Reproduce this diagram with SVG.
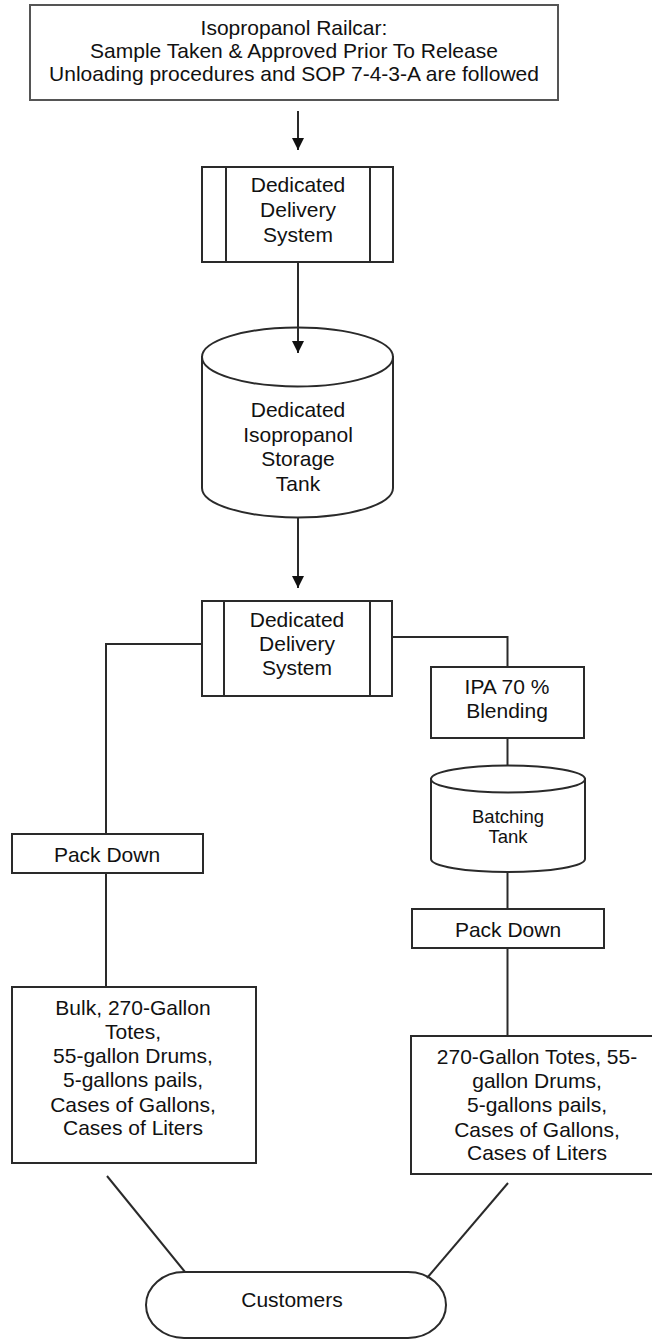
<svg xmlns="http://www.w3.org/2000/svg" width="652" height="1339" viewBox="0 0 652 1339">
<style>
  .box { fill: #fff; stroke: #2a2a2a; stroke-width: 2; }
  .top { fill: #fff; stroke: #555; stroke-width: 2; }
  .ln { fill: none; stroke: #2a2a2a; stroke-width: 2; }
  .t { font-family: "Liberation Sans", Arial, sans-serif; font-size: 21px; fill: #111; text-anchor: middle; }
  .ts { font-family: "Liberation Sans", Arial, sans-serif; font-size: 18.5px; fill: #111; text-anchor: middle; }
</style>
<defs>
  <marker id="arr" markerUnits="userSpaceOnUse" markerWidth="12" markerHeight="12" refX="12" refY="6" orient="auto">
    <path d="M0,0 L12,6 L0,12 Z" fill="#111"/>
  </marker>
</defs>
<rect width="652" height="1339" fill="#fff"/>

<g id="railcar">
  <rect class="top" x="30" y="5" width="528" height="95"/>
  <text class="t" x="294" y="35">Isopropanol Railcar:</text>
  <text class="t" x="294" y="58">Sample Taken &amp; Approved Prior To Release</text>
  <text class="t" x="294" y="81">Unloading procedures and SOP 7-4-3-A are followed</text>
</g>

<g id="delivery1">
  <rect class="box" x="202" y="167" width="191" height="95"/>
  <line class="ln" x1="226" y1="167" x2="226" y2="262"/>
  <line class="ln" x1="370" y1="167" x2="370" y2="262"/>
  <text class="t" x="298" y="192">Dedicated</text>
  <text class="t" x="298" y="217">Delivery</text>
  <text class="t" x="298" y="242">System</text>
</g>

<g id="storage-tank">
  <path class="box" d="M202,357 V488 A95.5,29.5 0 0 0 393,488 V357 Z"/>
  <ellipse class="box" cx="297.5" cy="357" rx="95.5" ry="29.5"/>
  <text class="t" x="298" y="417">Dedicated</text>
  <text class="t" x="298" y="441.5">Isopropanol</text>
  <text class="t" x="298" y="466">Storage</text>
  <text class="t" x="298" y="490.5">Tank</text>
</g>

<g id="delivery2">
  <rect class="box" x="202" y="601" width="190" height="95"/>
  <line class="ln" x1="224" y1="601" x2="224" y2="696"/>
  <line class="ln" x1="370" y1="601" x2="370" y2="696"/>
  <text class="t" x="297" y="627">Dedicated</text>
  <text class="t" x="297" y="651">Delivery</text>
  <text class="t" x="297" y="675">System</text>
</g>

<g id="ipa-blending">
  <rect class="box" x="431" y="667" width="153" height="71"/>
  <text class="t" x="507" y="694">IPA 70 %</text>
  <text class="t" x="507" y="718">Blending</text>
</g>

<g id="batching-tank">
  <path class="box" d="M431,779 V859 A77,13 0 0 0 585,859 V779 Z"/>
  <ellipse class="box" cx="508" cy="779" rx="77" ry="13.5"/>
  <text class="ts" x="508" y="823">Batching</text>
  <text class="ts" x="508" y="843">Tank</text>
</g>

<g id="packdown-left">
  <rect class="box" x="12" y="834" width="191" height="39"/>
  <text class="t" x="107" y="862">Pack Down</text>
</g>

<g id="packdown-right">
  <rect class="box" x="412" y="909" width="192" height="39"/>
  <text class="t" x="508" y="937">Pack Down</text>
</g>

<g id="products-left">
  <rect class="box" x="12" y="987" width="244" height="176"/>
  <text class="t" x="133" y="1015">Bulk, 270-Gallon</text>
  <text class="t" x="133" y="1039">Totes,</text>
  <text class="t" x="133" y="1063">55-gallon Drums,</text>
  <text class="t" x="133" y="1087">5-gallons pails,</text>
  <text class="t" x="133" y="1112">Cases of Gallons,</text>
  <text class="t" x="133" y="1135">Cases of Liters</text>
</g>

<g id="products-right">
  <rect class="box" x="411" y="1036" width="252" height="138"/>
  <text class="t" x="537" y="1064">270-Gallon Totes, 55-</text>
  <text class="t" x="537" y="1088">gallon Drums,</text>
  <text class="t" x="537" y="1112">5-gallons pails,</text>
  <text class="t" x="537" y="1137">Cases of Gallons,</text>
  <text class="t" x="537" y="1160">Cases of Liters</text>
</g>

<g id="customers">
  <rect class="box" x="146" y="1272" width="300" height="66" rx="38" ry="33"/>
  <text class="t" x="292" y="1307">Customers</text>
</g>

<g id="connectors">
  <line class="ln" x1="298" y1="111" x2="298" y2="150" marker-end="url(#arr)"/>
  <line class="ln" x1="298" y1="262" x2="298" y2="353" marker-end="url(#arr)"/>
  <line class="ln" x1="298" y1="517" x2="298" y2="588" marker-end="url(#arr)"/>
  <polyline class="ln" points="202,644 106,644 106,834"/>
  <line class="ln" x1="106" y1="873" x2="106" y2="987"/>
  <polyline class="ln" points="392,637 507.5,637 507.5,667"/>
  <line class="ln" x1="507.5" y1="738" x2="507.5" y2="765.5"/>
  <line class="ln" x1="507.5" y1="872" x2="507.5" y2="909"/>
  <line class="ln" x1="507.5" y1="948" x2="507.5" y2="1036"/>
  <line class="ln" x1="107" y1="1176" x2="185" y2="1272"/>
  <line class="ln" x1="508" y1="1183" x2="427" y2="1278"/>
</g>
</svg>
